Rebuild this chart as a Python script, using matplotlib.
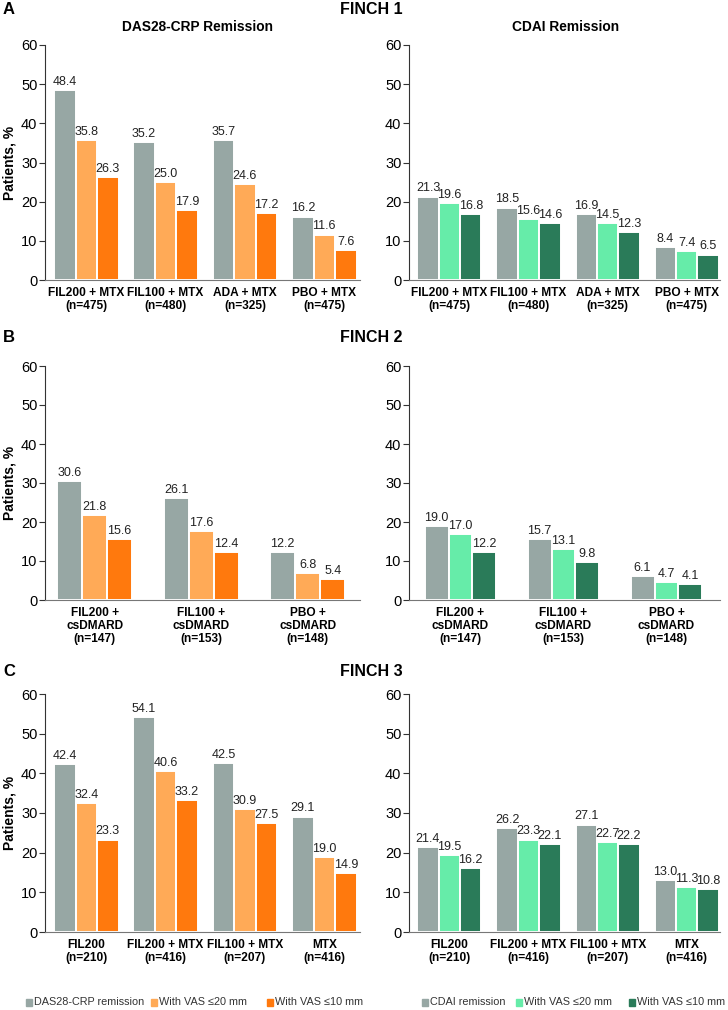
import numpy as np
import matplotlib.pyplot as plt
from matplotlib.patches import Rectangle

plt.rcParams['font.family'] = ['Liberation Sans', 'DejaVu Sans']

# FINCH 1
f1_groups = ['FIL200 + MTX\n(n=475)', 'FIL100 + MTX\n(n=480)', 'ADA + MTX\n(n=325)', 'PBO + MTX\n(n=475)']
f1_das = [48.4, 35.2, 35.7, 16.2]
f1_das_vas20 = [35.8, 25.0, 24.6, 11.6]
f1_das_vas10 = [26.3, 17.9, 17.2, 7.6]
f1_cdai = [21.3, 18.5, 16.9, 8.4]
f1_cdai_vas20 = [19.6, 15.6, 14.5, 7.4]
f1_cdai_vas10 = [16.8, 14.6, 12.3, 6.5]

# FINCH 2
f2_groups = ['FIL200 +\ncsDMARD\n(n=147)', 'FIL100 +\ncsDMARD\n(n=153)', 'PBO +\ncsDMARD\n(n=148)']
f2_das = [30.6, 26.1, 12.2]
f2_das_vas20 = [21.8, 17.6, 6.8]
f2_das_vas10 = [15.6, 12.4, 5.4]
f2_cdai = [19.0, 15.7, 6.1]
f2_cdai_vas20 = [17.0, 13.1, 4.7]
f2_cdai_vas10 = [12.2, 9.8, 4.1]

# FINCH 3
f3_groups = ['FIL200\n(n=210)', 'FIL200 + MTX\n(n=416)', 'FIL100 + MTX\n(n=207)', 'MTX\n(n=416)']
f3_das = [42.4, 54.1, 42.5, 29.1]
f3_das_vas20 = [32.4, 40.6, 30.9, 19.0]
f3_das_vas10 = [23.3, 33.2, 27.5, 14.9]
f3_cdai = [21.4, 26.2, 27.1, 13.0]
f3_cdai_vas20 = [19.5, 23.3, 22.7, 11.3]
f3_cdai_vas10 = [16.2, 22.1, 22.2, 10.8]

das_legend = ['DAS28-CRP remission', 'With VAS ≤20 mm', 'With VAS ≤10 mm']
cdai_legend = ['CDAI remission', 'With VAS ≤20 mm', 'With VAS ≤10 mm']

gray = '#97a7a4'
orange_cols = [gray, '#ffaa57', '#ff790d']
green_cols = [gray, '#66eca9', '#2a7b59']

W, H = 728, 1010
fig = plt.figure(figsize=(W / 100, H / 100), dpi=100)


def px_axes(x0, x1, ytop, ybot):
    return fig.add_axes([x0 / W, 1 - ybot / H, (x1 - x0) / W, (ybot - ytop) / H])


def bars(ax, groups, series, cols, step, xlim):
    x = np.arange(len(groups))
    for i, (vals, c) in enumerate(zip(series, cols)):
        pos = x + (i - 1) * step
        ax.bar(pos, vals, step, color=c, edgecolor='white', linewidth=1.4)
        for p, v in zip(pos, vals):
            ax.annotate(f'{v:.1f}', (p, v), xytext=(0, 1.5), textcoords='offset points',
                        ha='center', va='bottom', fontsize=9.0, color='#222222')
    ax.set_xlim(*xlim)
    ax.set_ylim(0, 60)
    ax.set_yticks(range(0, 61, 10))
    ax.set_xticks(x)
    ax.set_xticklabels(groups, fontsize=8.6, fontweight='bold', linespacing=1.12)
    ax.tick_params(axis='x', length=0, pad=5)
    ax.tick_params(axis='y', labelsize=10.5, length=4, width=0.8, color='#333333', pad=1.5)
    ax.spines['top'].set_visible(False)
    ax.spines['right'].set_visible(False)
    ax.spines['left'].set_color('#333333')
    ax.spines['bottom'].set_color('#777777')


rows = [
    (f1_groups, [f1_das, f1_das_vas20, f1_das_vas10], [f1_cdai, f1_cdai_vas20, f1_cdai_vas10],
     45, 280, 9, 'A', 'FINCH 1', 0.271, (-0.52, 3.45), 0.27, (-0.51, 3.42)),
    (f2_groups, [f2_das, f2_das_vas20, f2_das_vas10], [f2_cdai, f2_cdai_vas20, f2_cdai_vas10],
     366, 600, 337, 'B', 'FINCH 2', 0.235, (-0.465, 2.49), 0.232, (-0.5, 2.52)),
    (f3_groups, [f3_das, f3_das_vas20, f3_das_vas10], [f3_cdai, f3_cdai_vas20, f3_cdai_vas10],
     694, 932, 672, 'C', 'FINCH 3', 0.271, (-0.52, 3.45), 0.27, (-0.51, 3.42)),
]

for groups, left, right, ytop, ybot, ytitle, letter, title, stl, xll, str_, xlr in rows:
    axl = px_axes(45, 360, ytop, ybot)
    axr = px_axes(409, 720, ytop, ybot)
    bars(axl, groups, left, orange_cols, stl, xll)
    bars(axr, groups, right, green_cols, str_, xlr)
    axl.set_ylabel('Patients, %', fontsize=10, fontweight='bold', labelpad=3)
    fig.text(3 / W, 1 - ytitle / H, letter, fontsize=12, fontweight='bold', va='center')
    fig.text(371 / W, 1 - ytitle / H, title, fontsize=11.5, fontweight='bold', ha='center', va='center')

fig.text(198 / W, 1 - 27 / H, 'DAS28-CRP Remission', fontsize=9.9, fontweight='bold', ha='center', va='center')
fig.text(566 / W, 1 - 27 / H, 'CDAI Remission', fontsize=9.9, fontweight='bold', ha='center', va='center')

# legends: square + label, x positions in pixels
leg_y = 1002
for names, cols, xs in [(das_legend, orange_cols, [26, 151, 267]),
                        (cdai_legend, green_cols, [422, 516, 629])]:
    for name, c, x in zip(names, cols, xs):
        fig.patches.append(Rectangle((x / W, 1 - (leg_y + 3.5) / H), 6 / W, 7 / H,
                                     transform=fig.transFigure, color=c))
        fig.text((x + 8) / W, 1 - leg_y / H, name, fontsize=7.8, va='center', color='#333333')

fig.savefig('out.png', dpi=100)
